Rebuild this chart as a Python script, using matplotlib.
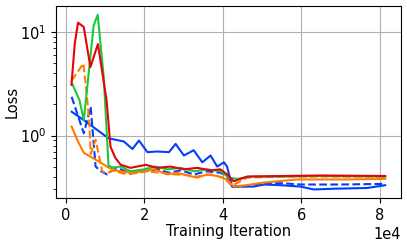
import matplotlib
matplotlib.use("Agg")
import matplotlib.pyplot as plt

# Blue solid
blue_x = [1500, 4600, 10900, 14800, 17000, 18650, 20800, 23300, 26300, 28000, 30100,
          32600, 34800, 36900, 38600, 40300, 41100, 42400, 44500, 47900, 50500, 54700,
          59800, 63200, 68300, 76800, 81400]
blue_y = [1.70, 1.41, 0.94, 0.875, 0.74, 0.895, 0.69, 0.70, 0.69, 0.83, 0.64,
          0.72, 0.55, 0.64, 0.50, 0.55, 0.50, 0.32, 0.32, 0.32, 0.335, 0.33,
          0.32, 0.30, 0.305, 0.31, 0.33]

# Blue dashed
blued_x = [1500, 4600, 6350, 7600, 9000, 10500, 12200, 14000, 16500, 19900, 23300, 26300,
           29300, 32700, 36000, 39400, 41100, 42400, 45000, 50000, 55000, 60000, 70000, 81400]
blued_y = [2.37, 1.05, 1.90, 0.50, 0.45, 0.42, 0.47, 0.47, 0.43, 0.45, 0.47, 0.435,
           0.46, 0.42, 0.45, 0.435, 0.405, 0.32, 0.32, 0.345, 0.345, 0.335, 0.335, 0.34]

# Orange solid
orange_x = [1500, 2900, 4600, 6700, 8400, 10900, 12500, 14000, 16500, 19100, 22500, 25900,
            28400, 31000, 33500, 36000, 38600, 41100, 42800, 46000, 50500, 54000, 58900,
            65000, 72000, 81400]
orange_y = [1.22, 0.91, 0.68, 0.61, 0.56, 0.49, 0.46, 0.45, 0.435, 0.45, 0.47, 0.42,
            0.435, 0.41, 0.39, 0.42, 0.405, 0.375, 0.32, 0.33, 0.35, 0.36, 0.375,
            0.375, 0.375, 0.38]

# Orange dashed
oranged_x = [1500, 4500, 5500, 6000, 6350, 7600, 9300, 10500, 12000, 14000, 15700, 18200,
             20800, 24200, 27600, 31000, 33500, 36900, 40300, 42300, 46200, 50000, 55000,
             65000, 81400]
oranged_y = [3.4, 5.0, 2.2, 1.32, 0.66, 0.91, 0.45, 0.43, 0.46, 0.435, 0.42, 0.435,
             0.45, 0.435, 0.42, 0.415, 0.40, 0.42, 0.39, 0.325, 0.39, 0.395, 0.40,
             0.40, 0.40]

# Green solid
green_x = [1600, 3500, 4600, 7100, 8140, 9670, 10900, 12000, 14000, 16500, 19900, 22900,
           25900, 29300, 32700, 36000, 39400, 41600, 43700, 47000, 55000, 65000, 81400]
green_y = [3.2, 2.2, 1.41, 11.6, 14.8, 3.7, 0.51, 0.49, 0.50, 0.45, 0.47, 0.50,
           0.47, 0.486, 0.45, 0.47, 0.45, 0.39, 0.38, 0.40, 0.40, 0.405, 0.40]

# Red solid
red_x = [1450, 2300, 3130, 4580, 6280, 8200, 10400, 11400, 12600, 14000, 16500, 20400,
         23300, 26700, 30100, 33500, 36900, 39400, 41100, 42800, 46200, 55000, 65000, 81400]
red_y = [3.1, 7.8, 12.4, 11.3, 4.6, 7.7, 2.2, 0.78, 0.61, 0.52, 0.486, 0.52,
         0.486, 0.50, 0.47, 0.486, 0.46, 0.47, 0.42, 0.36, 0.40, 0.405, 0.41, 0.405]

c_blue = "#023eff"
c_orange = "#ff7c00"
c_green = "#1ac938"
c_red = "#e8000b"

fig = plt.figure(figsize=(4.07, 2.42), dpi=100)
ax = fig.add_axes([0.137, 0.181, 0.848, 0.794])

lw = 1.5
ax.plot(blue_x, blue_y, color=c_blue, lw=lw)
ax.plot(blued_x, blued_y, color=c_blue, lw=lw, ls="--")
ax.plot(orange_x, orange_y, color=c_orange, lw=lw)
ax.plot(oranged_x, oranged_y, color=c_orange, lw=lw, ls="--")
ax.plot(green_x, green_y, color=c_green, lw=lw)
ax.plot(red_x, red_y, color=c_red, lw=lw)

fs = 10.5
ax.set_yscale("log")
ax.grid(True, which="major", color="#b0b0b0", lw=0.8)
ax.ticklabel_format(style="sci", axis="x", scilimits=(0, 0))
ax.set_xlabel("Training Iteration", fontsize=fs, labelpad=1)
ax.set_ylabel("Loss", fontsize=fs)
ax.yaxis.set_label_coords(-0.105, 0.5)
ax.tick_params(labelsize=fs)
ax.xaxis.get_offset_text().set_fontsize(fs)

fig.savefig("out.png", dpi=100)
